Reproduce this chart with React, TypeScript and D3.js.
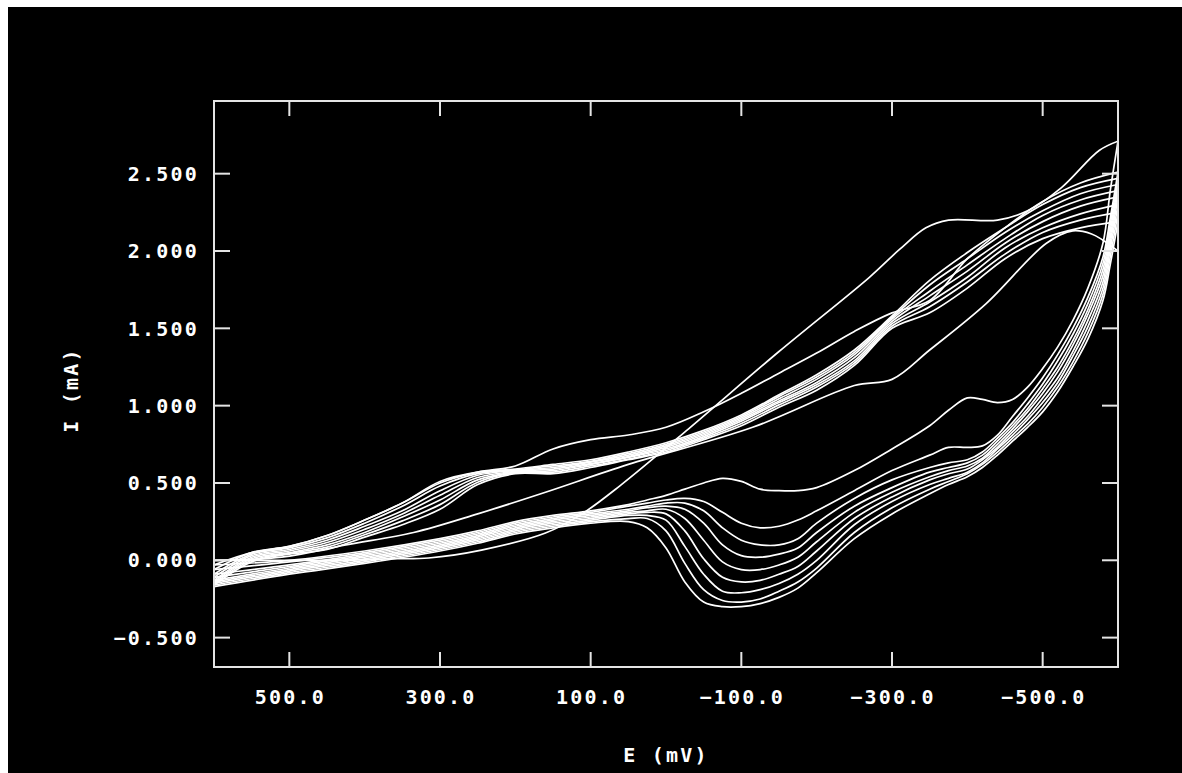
import React from 'react';
import * as d3 from 'd3';

// potentials (mV) of the cathodic sweeps, 600 -> -600
const fwdE = [600, 550, 500, 450, 400, 350, 300, 250, 200, 150, 100, 50, 0, -50, -100, -150, -200, -250, -300, -350, -400, -450, -500, -550, -600];
const fwd2 = [-0.03, 0.05, 0.09, 0.16, 0.26, 0.37, 0.50, 0.57, 0.61, 0.72, 0.78, 0.81, 0.86, 0.96, 1.08, 1.21, 1.34, 1.48, 1.60, 1.68, 1.95, 2.15, 2.32, 2.44, 2.51];
const fwd3 = [-0.06, 0.05, 0.09, 0.16, 0.26, 0.37, 0.51, 0.57, 0.59, 0.62, 0.65, 0.70, 0.76, 0.84, 0.94, 1.07, 1.20, 1.36, 1.58, 1.81, 1.99, 2.15, 2.30, 2.41, 2.47];
const fwd4 = [-0.09, 0.04, 0.08, 0.145, 0.24, 0.35, 0.48, 0.56, 0.585, 0.61, 0.64, 0.69, 0.75, 0.83, 0.93, 1.06, 1.185, 1.345, 1.57, 1.78, 1.95, 2.12, 2.26, 2.37, 2.43];
const fwd5 = [-0.11, 0.03, 0.07, 0.13, 0.22, 0.32, 0.45, 0.55, 0.58, 0.60, 0.635, 0.68, 0.74, 0.82, 0.92, 1.045, 1.17, 1.33, 1.56, 1.74, 1.91, 2.08, 2.23, 2.33, 2.39];
const fwd6 = [-0.13, 0.02, 0.06, 0.115, 0.20, 0.30, 0.42, 0.535, 0.575, 0.59, 0.625, 0.67, 0.73, 0.81, 0.91, 1.03, 1.15, 1.31, 1.545, 1.71, 1.87, 2.05, 2.19, 2.29, 2.35];
const fwd7 = [-0.14, 0.01, 0.05, 0.10, 0.18, 0.28, 0.39, 0.52, 0.57, 0.58, 0.62, 0.665, 0.72, 0.80, 0.90, 1.02, 1.135, 1.29, 1.53, 1.67, 1.83, 2.02, 2.15, 2.24, 2.30];
const fwd8 = [-0.15, 0.00, 0.045, 0.085, 0.165, 0.255, 0.36, 0.505, 0.565, 0.57, 0.61, 0.655, 0.71, 0.79, 0.885, 1.005, 1.12, 1.275, 1.515, 1.64, 1.80, 1.98, 2.12, 2.20, 2.25];
const fwd9 = [-0.16, -0.01, 0.04, 0.07, 0.15, 0.23, 0.33, 0.49, 0.56, 0.56, 0.60, 0.65, 0.70, 0.78, 0.87, 0.99, 1.10, 1.26, 1.50, 1.60, 1.76, 1.95, 2.08, 2.15, 2.19];

// first sweep and the odd low sweep
const firstE = [600, 500, 430, 365, 315, 245, 160, 110, 60, -30, -150, -270, -310, -345, -375, -440, -480, -525, -575, -600];
const firstI = [0.0, 0.0, 0.0, 0.01, 0.015, 0.066, 0.176, 0.305, 0.486, 0.85, 1.35, 1.83, 2.01, 2.15, 2.20, 2.20, 2.26, 2.41, 2.65, 2.71];
const lowE = [600, 510, 425, 335, 250, 160, 50, -115, -250, -300, -350, -425, -505, -540, -565, -580, -600];
const lowI = [0.0, 0.02, 0.10, 0.18, 0.30, 0.44, 0.62, 0.86, 1.13, 1.17, 1.36, 1.66, 2.05, 2.13, 2.11, 2.07, 2.00];

// anodic (return) sweeps, -600 -> 600
const revE = [-600, -590, -580, -560, -540, -520, -500, -480, -460, -440, -420, -400, -375, -350, -300, -250, -200, -175, -150, -125, -100, -75, -50, -25, 0, 25, 50, 100, 150, 200, 250, 300, 400, 500, 600];
const rev1 = [2.71, 2.40, 2.05, 1.76, 1.55, 1.38, 1.24, 1.12, 1.04, 1.02, 1.04, 1.05, 0.97, 0.87, 0.72, 0.58, 0.47, 0.45, 0.45, 0.46, 0.51, 0.53, 0.50, 0.46, 0.42, 0.39, 0.36, 0.32, 0.29, 0.25, 0.19, 0.14, 0.06, 0.00, -0.03];
const rev2 = [2.51, 2.22, 1.96, 1.70, 1.50, 1.33, 1.18, 1.05, 0.93, 0.81, 0.74, 0.73, 0.73, 0.68, 0.58, 0.45, 0.32, 0.26, 0.22, 0.21, 0.24, 0.31, 0.38, 0.40, 0.39, 0.37, 0.35, 0.31, 0.28, 0.24, 0.18, 0.13, 0.05, -0.01, -0.06];
const rev3 = [2.47, 2.18, 1.92, 1.66, 1.46, 1.29, 1.14, 1.01, 0.89, 0.79, 0.70, 0.65, 0.63, 0.60, 0.52, 0.40, 0.24, 0.14, 0.10, 0.10, 0.13, 0.21, 0.32, 0.37, 0.37, 0.35, 0.33, 0.30, 0.27, 0.23, 0.17, 0.12, 0.04, -0.03, -0.09];
const rev4 = [2.43, 2.14, 1.88, 1.62, 1.42, 1.25, 1.11, 0.98, 0.87, 0.77, 0.68, 0.63, 0.60, 0.57, 0.47, 0.35, 0.18, 0.08, 0.04, 0.02, 0.03, 0.10, 0.24, 0.33, 0.35, 0.34, 0.32, 0.29, 0.26, 0.22, 0.16, 0.11, 0.03, -0.04, -0.11];
const rev5 = [2.39, 2.10, 1.84, 1.59, 1.39, 1.22, 1.08, 0.96, 0.85, 0.75, 0.66, 0.61, 0.58, 0.54, 0.44, 0.31, 0.12, 0.02, -0.03, -0.06, -0.06, -0.01, 0.13, 0.27, 0.33, 0.32, 0.31, 0.28, 0.25, 0.21, 0.15, 0.10, 0.02, -0.05, -0.13];
const rev6 = [2.35, 2.06, 1.80, 1.55, 1.35, 1.18, 1.05, 0.93, 0.83, 0.73, 0.65, 0.59, 0.56, 0.52, 0.41, 0.27, 0.06, -0.04, -0.09, -0.13, -0.14, -0.11, 0.01, 0.19, 0.30, 0.31, 0.30, 0.27, 0.24, 0.20, 0.14, 0.09, 0.01, -0.06, -0.14];
const rev7 = [2.30, 2.02, 1.76, 1.51, 1.32, 1.15, 1.02, 0.91, 0.81, 0.72, 0.63, 0.57, 0.53, 0.49, 0.38, 0.23, 0.00, -0.09, -0.15, -0.19, -0.21, -0.20, -0.09, 0.09, 0.26, 0.29, 0.29, 0.26, 0.23, 0.19, 0.13, 0.08, 0.00, -0.07, -0.15];
const rev8 = [2.25, 1.97, 1.72, 1.47, 1.28, 1.12, 0.99, 0.88, 0.79, 0.70, 0.62, 0.56, 0.51, 0.46, 0.34, 0.18, -0.05, -0.14, -0.20, -0.25, -0.27, -0.26, -0.19, -0.02, 0.19, 0.27, 0.27, 0.25, 0.22, 0.18, 0.12, 0.07, -0.01, -0.08, -0.16];
const rev9 = [2.19, 1.92, 1.68, 1.43, 1.25, 1.09, 0.96, 0.86, 0.77, 0.68, 0.60, 0.54, 0.49, 0.43, 0.30, 0.14, -0.08, -0.18, -0.24, -0.28, -0.30, -0.30, -0.27, -0.14, 0.08, 0.21, 0.25, 0.24, 0.21, 0.17, 0.11, 0.06, -0.02, -0.09, -0.17];

const xTicks = [500, 300, 100, -100, -300, -500];
const yTicks = [-0.5, 0, 0.5, 1, 1.5, 2, 2.5];

const W = 1174, H = 766;
const plot = { left: 214, right: 1118, top: 101, bottom: 667 };

export default function App() {
  const x = d3.scaleLinear().domain([600, -600]).range([plot.left, plot.right]);
  const y = d3.scaleLinear().domain([-0.69, 2.97]).range([plot.bottom, plot.top]);

  const line = d3.line<[number, number]>()
    .x(d => x(d[0]))
    .y(d => y(d[1]))
    .curve(d3.curveCatmullRom.alpha(0.5));

  const zip = (es: number[], is: number[]) => es.map((e, i) => [e, is[i]] as [number, number]);
  const sweeps = [
    zip(firstE, firstI),
    zip(lowE, lowI),
    ...[fwd2, fwd3, fwd4, fwd5, fwd6, fwd7, fwd8, fwd9].map(s => zip(fwdE, s)),
    ...[rev1, rev2, rev3, rev4, rev5, rev6, rev7, rev8, rev9].map(s => zip(revE, s)),
  ];

  const fmtX = d3.format('.1f');
  const fmtY = d3.format('.3f');
  const font = { fontFamily: '"DejaVu Sans Mono", monospace', fontSize: 20, fontWeight: 'bold' as const, letterSpacing: 2.2 };
  const frame = '#e4e4e4';

  return (
    <svg width={W} height={H} style={{ position: 'absolute', left: 8, top: 7, background: '#000' }}>
      <g transform="translate(-8,-7)">
        <rect x={8} y={7} width={W} height={H} fill="#000" />
        <defs>
          <clipPath id="plotclip">
            <rect x={plot.left} y={plot.top} width={plot.right - plot.left} height={plot.bottom - plot.top} />
          </clipPath>
        </defs>
        <g clipPath="url(#plotclip)">
          {sweeps.map((s, i) => (
            <path key={i} d={line(s) ?? ''} fill="none" stroke="#fff" strokeWidth={1.7} />
          ))}
        </g>
        <rect x={plot.left} y={plot.top} width={plot.right - plot.left} height={plot.bottom - plot.top}
          fill="none" stroke={frame} strokeWidth={2} />
        {xTicks.map(t => (
          <g key={t}>
            <line x1={x(t)} x2={x(t)} y1={plot.bottom} y2={plot.bottom - 15} stroke={frame} strokeWidth={2} />
            <line x1={x(t)} x2={x(t)} y1={plot.top} y2={plot.top + 15} stroke={frame} strokeWidth={2} />
            <text x={x(t) + 1} y={704} textAnchor="middle" fill="#fff" style={font}>{fmtX(t)}</text>
          </g>
        ))}
        {yTicks.map(t => (
          <g key={t}>
            <line x1={plot.left} x2={plot.left + 16} y1={y(t)} y2={y(t)} stroke={frame} strokeWidth={2} />
            <line x1={plot.right} x2={plot.right - 16} y1={y(t)} y2={y(t)} stroke={frame} strokeWidth={2} />
            <text x={199} y={y(t)} dy="0.36em" textAnchor="end" fill="#fff" style={font}>{fmtY(t)}</text>
          </g>
        ))}
        <text x={(plot.left + plot.right) / 2} y={762} textAnchor="middle" fill="#fff" style={font}>E (mV)</text>
        <text transform={`translate(78,${(plot.top + plot.bottom) / 2 + 6}) rotate(-90)`} textAnchor="middle" fill="#fff" style={font}>I (mA)</text>
      </g>
    </svg>
  );
}
